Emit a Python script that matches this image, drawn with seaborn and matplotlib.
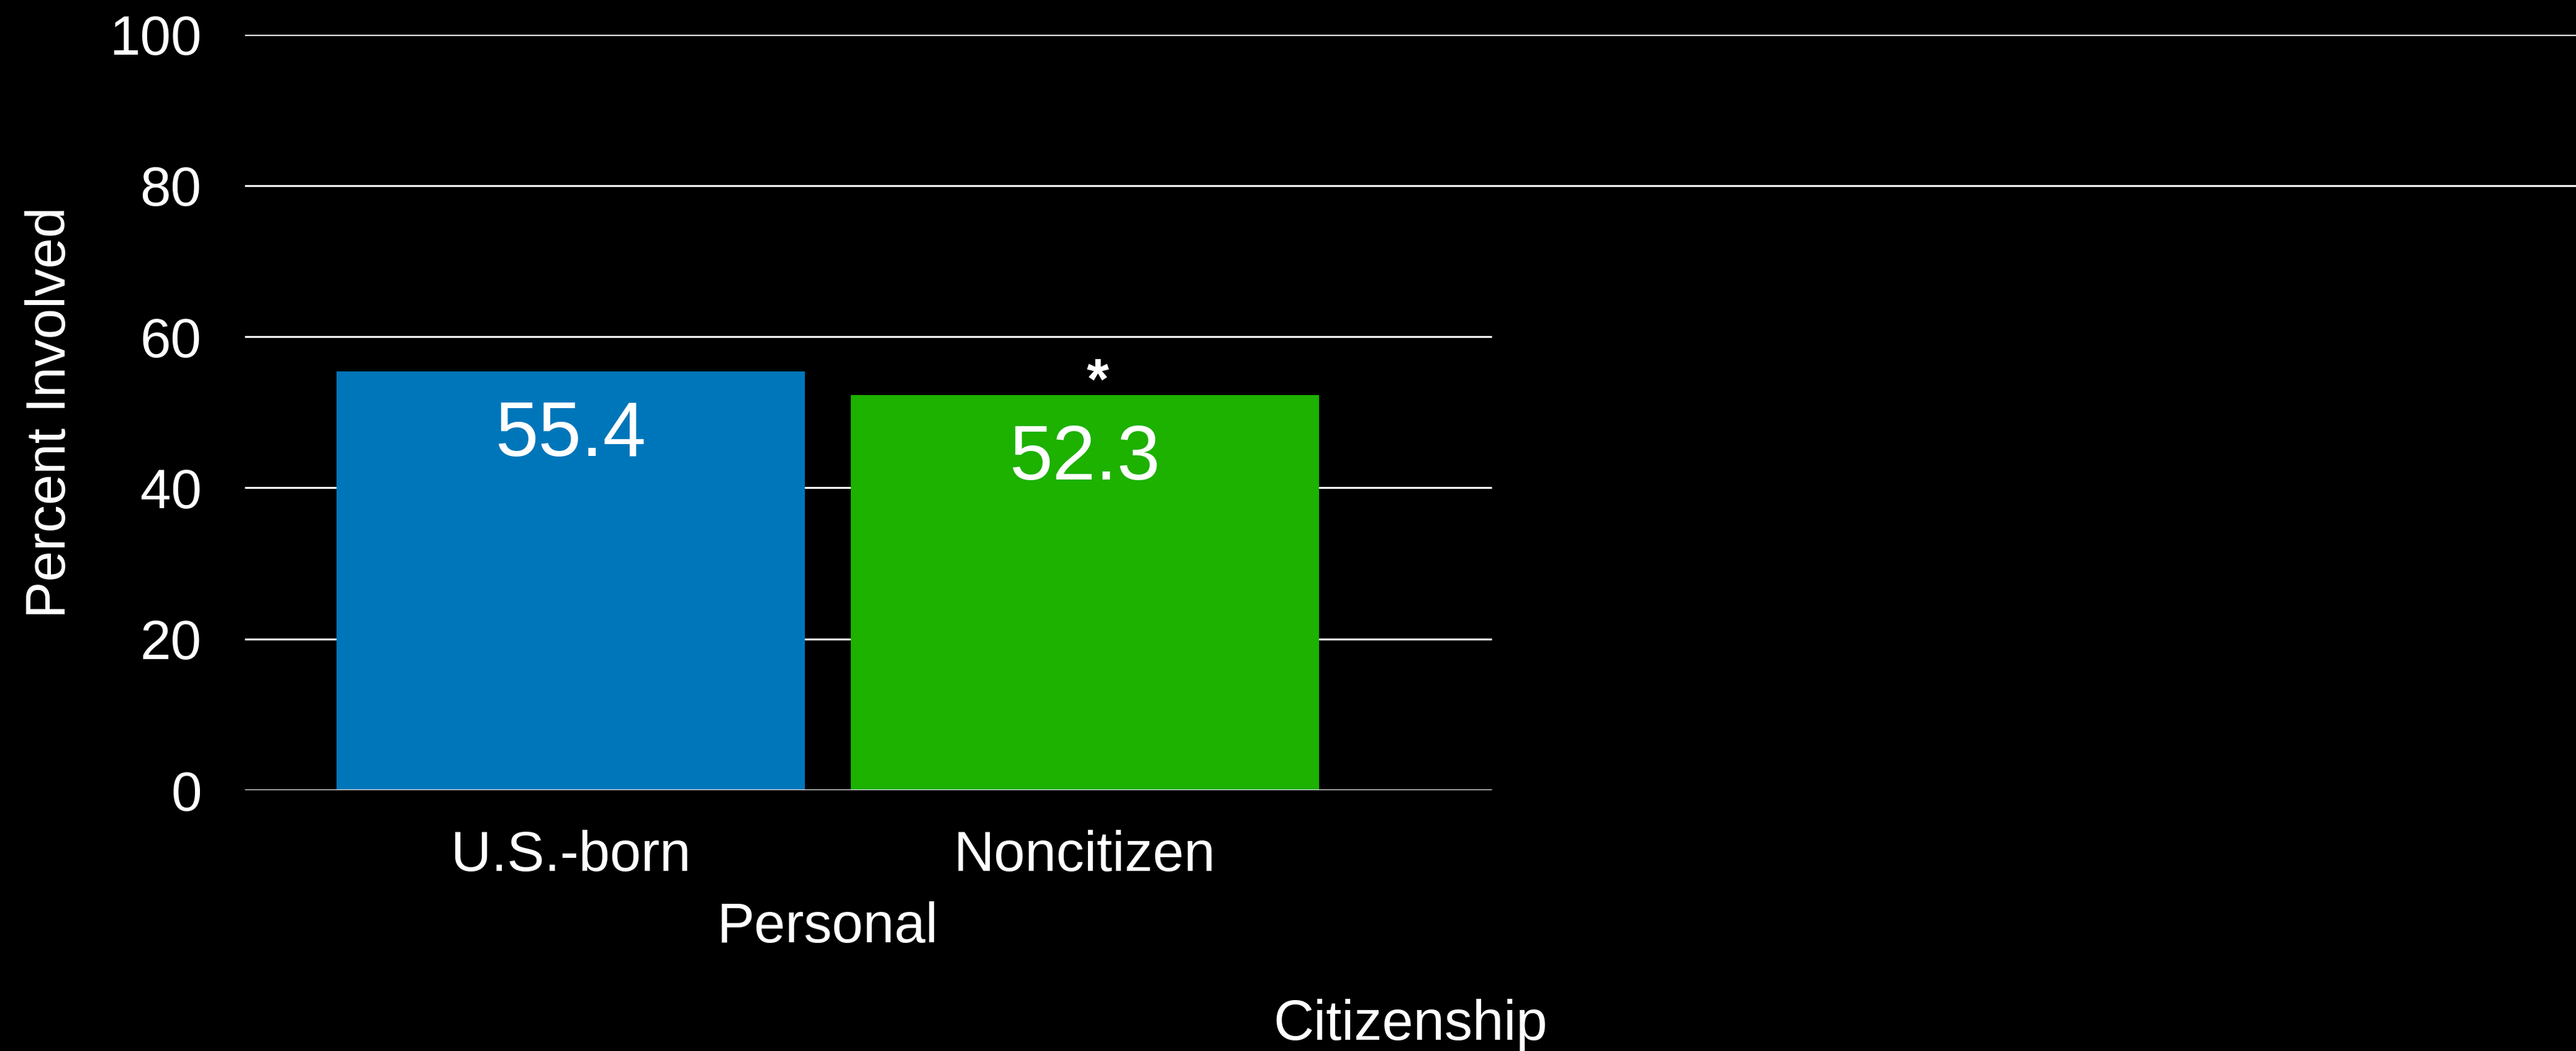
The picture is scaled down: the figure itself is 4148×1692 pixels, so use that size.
import matplotlib
matplotlib.use("Agg")
import matplotlib.pyplot as plt
import seaborn as sns
import pandas as pd

# Data
categories = ["U.S.-born", "Noncitizen"]
values = [55.4, 52.3]
significant = [False, True]
bar_colors = ["#0076BA", "#1DB100"]
y_ticks = [0, 20, 40, 60, 80, 100]
group_label = "Personal"
section_label = "Citizenship"
y_label = "Percent Involved"

df = pd.DataFrame({"group": categories, "value": values})

sns.set_theme(style="dark")
plt.rcParams["font.family"] = ["Liberation Sans", "DejaVu Sans"]

W, H, DPI = 4148, 1692, 100
fig = plt.figure(figsize=(W / DPI, H / DPI), dpi=DPI, facecolor="black")
ax = fig.add_axes([394 / W, 1 - 1272 / H, 1 - 394 / W, (1272 - 55.5) / H])
ax.set_facecolor("black")

sns.barplot(data=df, x="group", y="value", hue="group", palette=bar_colors,
            order=categories, hue_order=categories, width=0.91, saturation=1,
            legend=False, ax=ax, zorder=3, linewidth=0, edgecolor="none")

x_left, x_right = -0.634, 3.90
ax.set_xlim(x_left, x_right)
ax.set_ylim(0, 100)

# Horizontal rules: lower ones end after the plotted group, upper ones span the slide
for y in y_ticks:
    x_end = 1.791 if y <= 60 else x_right
    ax.hlines(y, x_left, x_end, color="white", linewidth=2.2,
              zorder=4 if y == 0 else 1)

ax.grid(False)
for s in ax.spines.values():
    s.set_visible(False)

ax.set_yticks(y_ticks)
ax.set_yticklabels([str(t) for t in y_ticks])
ax.tick_params(axis="y", length=0, pad=50, labelsize=64, labelcolor="white")
ax.tick_params(axis="x", length=0, pad=46, labelsize=65, labelcolor="white")

ax.set_xlabel("")
ax.set_ylabel(y_label, fontsize=64, color="white")
ax.yaxis.set_label_coords(-0.0718, 0.5)

# Value labels inside the bars
for i, (v, sig) in enumerate(zip(values, significant)):
    ax.text(i, v - 3.8, f"{v:.1f}", ha="center", va="top",
            fontsize=90, color="white", zorder=5)
    if sig:
        ax.text(i + 0.025, v - 2.0, "*", ha="center", va="bottom",
                fontsize=66, color="white", fontweight="bold", zorder=5)

ax.text(0.5, -0.182, group_label, transform=ax.get_xaxis_transform(),
        ha="center", va="center", fontsize=65, color="white")
fig.text(2271 / W, 1 - 1650 / H, section_label, ha="center", va="center",
         fontsize=65, color="white")

fig.savefig("out.png", dpi=DPI, facecolor="black")
